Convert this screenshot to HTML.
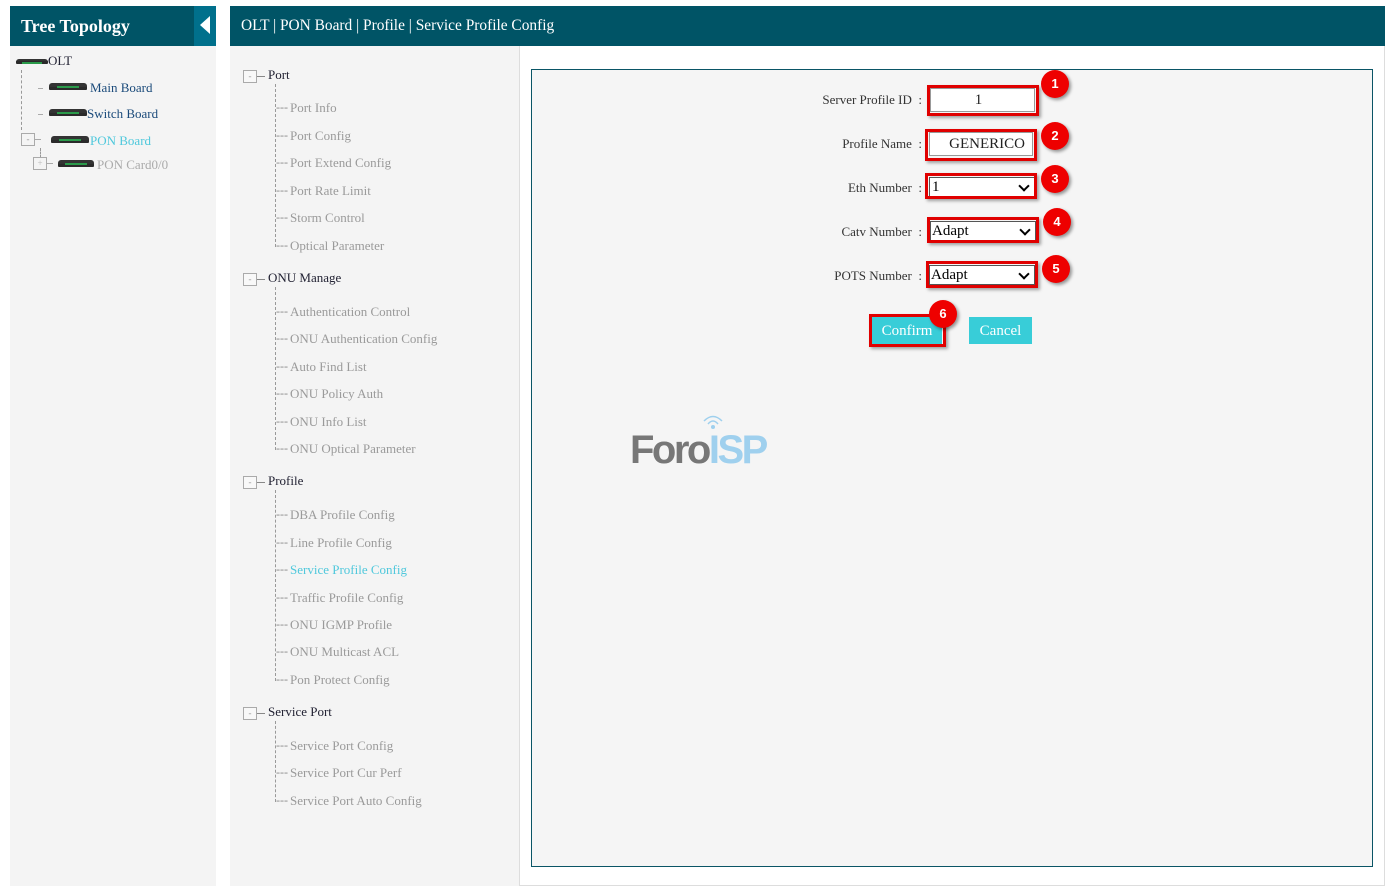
<!DOCTYPE html>
<html><head><meta charset="utf-8"><style>
*{margin:0;padding:0;box-sizing:border-box}
body{width:1396px;height:892px;background:#fff;font-family:"Liberation Serif",serif;position:relative;overflow:hidden}
.a{position:absolute}
.hdr{background:#005466;color:#fff}
.mi{position:absolute;font-size:13px;color:#9a9a9a;white-space:nowrap;line-height:15px}
.mi i{font-style:normal;color:#888;font-size:12px;display:inline-block;width:14px;overflow:hidden;vertical-align:top;line-height:15px}
.grp{position:absolute;font-size:13px;color:#223;white-space:nowrap}
.box{display:inline-block;width:14px;height:13px;border:1px solid #aaa;background:#f8f8f8;vertical-align:middle;margin-right:11px;position:relative;font-size:9px;color:#999;text-align:center;line-height:10px}
.box:after{content:"";position:absolute;left:13px;top:5px;width:8px;border-top:1px solid #888}
.vl{position:absolute;border-left:1px dashed #999;width:0}
.lbl{position:absolute;font-size:13px;color:#333;text-align:right;width:200px;white-space:nowrap}
.red{position:absolute;border:3px solid #e00000;box-shadow:2px 2px 3px rgba(0,0,0,.35)}
.inp{position:absolute;background:#fff;border:1px solid #999;font-size:15px;color:#222}
.sel{position:absolute;background:#fff;border:1px solid #555;font-size:15px;color:#000;padding-left:3px;line-height:18px}
.sel:after{content:"";position:absolute;right:6px;top:4px;width:6px;height:6px;border-right:2px solid #000;border-bottom:2px solid #000;transform:rotate(45deg)}
.bdg{position:absolute;width:28px;height:28px;border-radius:50%;background:#ee0000;color:#fff;font:bold 13px "Liberation Sans",sans-serif;text-align:center;line-height:28px;box-shadow:2px 2px 3px rgba(0,0,0,.4)}
.btn{position:absolute;background:#38cdd8;color:#fff;font-size:15px;text-align:center;line-height:27px}
.dev{position:absolute;height:7px;background:#333;border-radius:3px 3px 1px 1px;border-bottom:3px solid #2a2a2a}
.dev:after{content:"";position:absolute;left:20%;right:20%;top:3px;height:2px;background:#2a9a4a}
.tn{position:absolute;font-size:13px;white-space:nowrap}
</style></head><body>
<div class="a hdr" style="left:10px;top:6px;width:206px;height:40px;font:bold 18px 'Liberation Serif',serif;line-height:40px;padding-left:11px">Tree Topology</div>
<div class="a" style="left:194px;top:6px;width:22px;height:40px;background:#00708c"></div>
<div class="a" style="left:200px;top:16px;width:0;height:0;border-top:9px solid transparent;border-bottom:9px solid transparent;border-right:10px solid #fff"></div>
<div class="a" style="left:10px;top:46px;width:206px;height:840px;background:#f4f4f4"></div>
<div class="dev" style="left:16px;top:59px;width:32px;height:5px"></div>
<div class="tn" style="left:48px;top:53px;color:#223">OLT</div>
<div class="vl" style="left:21px;top:70px;height:60px"></div>
<div class="a" style="left:38px;top:88px;width:5px;border-top:1px solid #aaa"></div>
<div class="dev" style="left:49px;top:83px;width:38px"></div>
<div class="tn" style="left:90px;top:80px;color:#1a4a7a">Main Board</div>
<div class="a" style="left:38px;top:114px;width:5px;border-top:1px solid #aaa"></div>
<div class="dev" style="left:49px;top:109px;width:38px"></div>
<div class="tn" style="left:87px;top:106px;color:#1a4a7a">Switch Board</div>
<div class="a" style="left:21px;top:133px;width:14px;height:13px;border:1px solid #aaa;font-size:9px;color:#999;text-align:center;line-height:10px">-</div>
<div class="a" style="left:35px;top:139px;width:6px;border-top:1px solid #aaa"></div>
<div class="dev" style="left:51px;top:136px;width:38px"></div>
<div class="tn" style="left:90px;top:133px;color:#4fc8dc">PON Board</div>
<div class="vl" style="left:40px;top:148px;height:10px"></div>
<div class="a" style="left:33px;top:157px;width:14px;height:13px;border:1px solid #aaa;font-size:9px;color:#bbb;text-align:center;line-height:10px">+</div>
<div class="a" style="left:47px;top:163px;width:6px;border-top:1px solid #aaa"></div>
<div class="dev" style="left:58px;top:160px;width:36px"></div>
<div class="tn" style="left:97px;top:157px;color:#aaa">PON Card0/0</div>

<div class="a hdr" style="left:230px;top:6px;width:1155px;height:40px;font-size:15.4px;line-height:40px;padding-left:11px">OLT | PON Board | Profile | Service Profile Config</div>
<div class="a" style="left:230px;top:46px;width:289px;height:840px;background:#f4f4f4"></div>
<div class="a" style="left:519px;top:46px;width:866px;height:840px;border:1px solid #ddd;border-top:none;background:#fff"></div>
<div class="a" style="left:531px;top:69px;width:842px;height:798px;border:1px solid #0a5566;background:#f5f5f5"></div>

<div class="grp" style="left:243px;top:67px"><span class="box">-</span>Port</div>
<div class="vl" style="left:275px;top:84px;height:163px"></div>
<div class="mi" style="left:276px;top:100px"><i>---</i>Port Info</div>
<div class="mi" style="left:276px;top:128px"><i>---</i>Port Config</div>
<div class="mi" style="left:276px;top:155px"><i>---</i>Port Extend Config</div>
<div class="mi" style="left:276px;top:183px"><i>---</i>Port Rate Limit</div>
<div class="mi" style="left:276px;top:210px"><i>---</i>Storm Control</div>
<div class="mi" style="left:276px;top:238px"><i>---</i>Optical Parameter</div>

<div class="grp" style="left:243px;top:270px"><span class="box">-</span>ONU Manage</div>
<div class="vl" style="left:275px;top:287px;height:163px"></div>
<div class="mi" style="left:276px;top:304px"><i>---</i>Authentication Control</div>
<div class="mi" style="left:276px;top:331px"><i>---</i>ONU Authentication Config</div>
<div class="mi" style="left:276px;top:359px"><i>---</i>Auto Find List</div>
<div class="mi" style="left:276px;top:386px"><i>---</i>ONU Policy Auth</div>
<div class="mi" style="left:276px;top:414px"><i>---</i>ONU Info List</div>
<div class="mi" style="left:276px;top:441px"><i>---</i>ONU Optical Parameter</div>

<div class="grp" style="left:243px;top:473px"><span class="box">-</span>Profile</div>
<div class="vl" style="left:275px;top:490px;height:191px"></div>
<div class="mi" style="left:276px;top:507px"><i>---</i>DBA Profile Config</div>
<div class="mi" style="left:276px;top:535px"><i>---</i>Line Profile Config</div>
<div class="mi" style="left:276px;top:562px;color:#4fc8dc"><i>---</i>Service Profile Config</div>
<div class="mi" style="left:276px;top:590px"><i>---</i>Traffic Profile Config</div>
<div class="mi" style="left:276px;top:617px"><i>---</i>ONU IGMP Profile</div>
<div class="mi" style="left:276px;top:644px"><i>---</i>ONU Multicast ACL</div>
<div class="mi" style="left:276px;top:672px"><i>---</i>Pon Protect Config</div>

<div class="grp" style="left:243px;top:704px"><span class="box">-</span>Service Port</div>
<div class="vl" style="left:275px;top:721px;height:81px"></div>
<div class="mi" style="left:276px;top:738px"><i>---</i>Service Port Config</div>
<div class="mi" style="left:276px;top:765px"><i>---</i>Service Port Cur Perf</div>
<div class="mi" style="left:276px;top:793px"><i>---</i>Service Port Auto Config</div>

<div class="lbl" style="left:722px;top:92px">Server Profile ID &nbsp;:</div>
<div class="lbl" style="left:722px;top:136px">Profile Name &nbsp;:</div>
<div class="lbl" style="left:722px;top:180px">Eth Number &nbsp;:</div>
<div class="lbl" style="left:722px;top:224px">Catv Number &nbsp;:</div>
<div class="lbl" style="left:722px;top:268px">POTS Number &nbsp;:</div>

<div class="inp" style="left:930px;top:88px;width:105px;height:24px;text-align:center;line-height:22px;padding-right:8px">1</div>
<div class="red" style="left:927px;top:85px;width:112px;height:31px"></div>
<div class="inp" style="left:929px;top:132px;width:104px;height:24px;text-align:right;padding-right:7px;line-height:22px">GENERICO</div>
<div class="red" style="left:925px;top:129px;width:112px;height:32px"></div>
<div class="sel" style="left:929px;top:177px;width:106px;height:20px;padding-left:2px">1</div>
<div class="red" style="left:925px;top:173px;width:112px;height:26px"></div>
<div class="sel" style="left:930px;top:221px;width:106px;height:20px;padding-left:1px">Adapt</div>
<div class="red" style="left:927px;top:217px;width:112px;height:26px"></div>
<div class="sel" style="left:929px;top:265px;width:106px;height:20px;padding-left:1px">Adapt</div>
<div class="red" style="left:926px;top:261px;width:112px;height:27px"></div>

<div class="btn" style="left:872px;top:317px;width:70px;height:27px;line-height:28px">Confirm</div>
<div class="red" style="left:869px;top:314px;width:77px;height:33px"></div>
<div class="btn" style="left:969px;top:317px;width:63px;height:27px;line-height:28px">Cancel</div>

<div class="bdg" style="left:1041px;top:70px">1</div>
<div class="bdg" style="left:1041px;top:122px">2</div>
<div class="bdg" style="left:1041px;top:165px">3</div>
<div class="bdg" style="left:1043px;top:208px">4</div>
<div class="bdg" style="left:1042px;top:255px">5</div>
<div class="bdg" style="left:929px;top:300px">6</div>

<div class="a" style="left:630px;top:427px;font:bold 40px 'Liberation Sans',sans-serif;letter-spacing:-2.5px;line-height:46px;color:#777">Foro<span style="color:#9fd0ee">ISP</span></div>
<svg class="a" style="left:700px;top:413px" width="26" height="16"><path d="M4 8 Q13 -1 22 8" stroke="#9fd0ee" stroke-width="1.5" fill="none"/><path d="M8 11 Q13 5 18 11" stroke="#9fd0ee" stroke-width="1.5" fill="none"/><circle cx="13" cy="14" r="2" fill="#9fd0ee"/></svg>
</body></html>
